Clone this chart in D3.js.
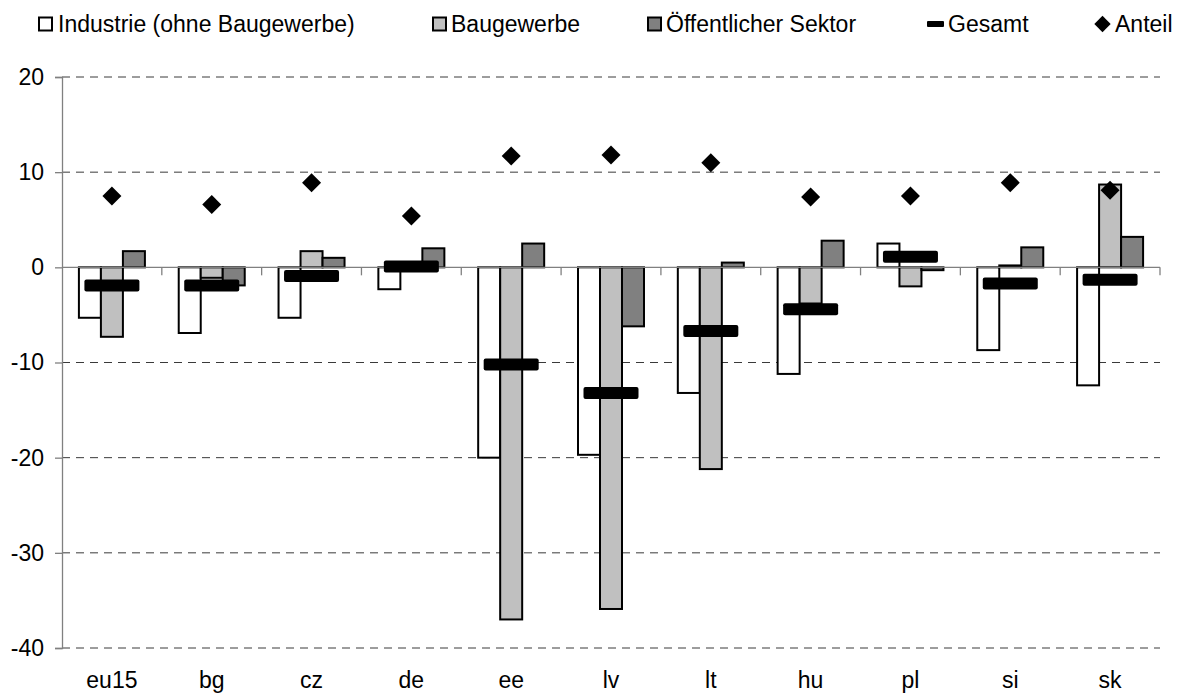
<!DOCTYPE html>
<html lang="de">
<head>
    <meta charset="UTF-8">
    <title>Beschäftigung nach Sektoren</title>
    <script src="https://d3js.org/d3.v7.min.js"></script>
    <style>
        body{
            margin: 0;
            background: #fff;
        }
        svg text{
            font-family: "Liberation Sans", Arial, sans-serif;
        }
    </style>
</head>
<body>
    <div id="chart"></div>

    <script>
        // values
        const categories = ["eu15", "bg", "cz", "de", "ee", "lv", "lt", "hu", "pl", "si", "sk"];
        const industrie = [-5.3, -6.9, -5.3, -2.3, -20.0, -19.7, -13.2, -11.2, 2.5, -8.7, -12.4];
        const baugewerbe = [-7.3, -1.1, 1.7, 0.3, -37.0, -35.9, -21.2, -3.8, -2.0, 0.2, 8.7];
        const oeffentlich = [1.7, -1.9, 1.0, 2.0, 2.5, -6.2, 0.5, 2.8, -0.3, 2.1, 3.2];
        const gesamt = [-1.9, -1.9, -0.9, 0.1, -10.2, -13.2, -6.7, -4.4, 1.1, -1.7, -1.3];
        const anteil = [7.5, 6.6, 8.9, 5.4, 11.7, 11.8, 11.0, 7.4, 7.5, 8.9, 8.1];
        const yTicks = [20, 10, 0, -10, -20, -30, -40];

        const seriesNames = ["Industrie (ohne Baugewerbe)", "Baugewerbe", "Öffentlicher Sektor", "Gesamt", "Anteil"];
        const barColors = ["#ffffff", "#c0c0c0", "#808080"];
        const barSeries = [industrie, baugewerbe, oeffentlich];

        const width = 1181;
        const height = 695;

        const svg = d3.select("#chart")
            .append("svg")
            .attr("width", width)
            .attr("height", height);

        const x = d3.scaleBand()
            .domain(categories)
            .range([62, 1160]);

        const y = d3.scaleLinear()
            .domain([-40, 20])
            .range([648, 77]);

        // dashed gridlines
        svg.selectAll(".grid")
            .data(yTicks.filter(d => d !== 0))
            .enter().append("line")
            .attr("class", "grid")
            .attr("x1", 62)
            .attr("x2", 1160)
            .attr("y1", d => y(d))
            .attr("y2", d => y(d))
            .attr("stroke", "#3a3a3a")
            .attr("stroke-width", 1)
            .attr("stroke-dasharray", "8,6");

        // y axis
        const yAxis = svg.append("g")
            .attr("transform", "translate(62,0)")
            .call(d3.axisLeft(y).tickValues(yTicks).tickSize(7).tickFormat(d3.format("d")));
        yAxis.select(".domain").attr("stroke", "#808080").attr("stroke-width", 1.3);
        yAxis.selectAll(".tick line").attr("stroke", "#808080").attr("stroke-width", 1.3);
        yAxis.selectAll(".tick text")
            .attr("x", -18)
            .style("font-size", "23px")
            .attr("fill", "#000")
            .text(d => d3.format("d")(d).replace("−", "-"));

        // category labels
        svg.selectAll(".cat")
            .data(categories)
            .enter().append("text")
            .attr("class", "cat")
            .attr("x", d => x(d) + x.bandwidth() / 2)
            .attr("y", 688)
            .attr("text-anchor", "middle")
            .style("font-size", "23px")
            .text(d => d);

        // bars
        const barW = 22;
        barSeries.forEach((values, s) => {
            svg.selectAll(".bar" + s)
                .data(values)
                .enter().append("rect")
                .attr("class", "bar" + s)
                .attr("x", (d, i) => x(categories[i]) + x.bandwidth() / 2 - 1.5 * barW + s * barW)
                .attr("y", d => y(Math.max(0, d)))
                .attr("width", barW)
                .attr("height", d => Math.abs(y(d) - y(0)))
                .attr("fill", barColors[s])
                .attr("stroke", "#000")
                .attr("stroke-width", 2);
        });

        // zero line with category ticks
        svg.append("line")
            .attr("x1", 62)
            .attr("x2", 1160)
            .attr("y1", y(0))
            .attr("y2", y(0))
            .attr("stroke", "#808080")
            .attr("stroke-width", 1.3);

        svg.selectAll(".xtick")
            .data(categories.slice(1).concat(["end"]))
            .enter().append("line")
            .attr("class", "xtick")
            .attr("x1", (d, i) => i < categories.length - 1 ? x(d) : x.range()[1])
            .attr("x2", (d, i) => i < categories.length - 1 ? x(d) : x.range()[1])
            .attr("y1", y(0))
            .attr("y2", y(0) + 8)
            .attr("stroke", "#808080")
            .attr("stroke-width", 1.3);

        // Gesamt markers
        svg.selectAll(".gesamt")
            .data(gesamt)
            .enter().append("rect")
            .attr("class", "gesamt")
            .attr("x", (d, i) => x(categories[i]) + x.bandwidth() / 2 - 27.5)
            .attr("y", d => y(d) - 6)
            .attr("width", 55)
            .attr("height", 12)
            .attr("rx", 2)
            .attr("fill", "#000");

        // Anteil diamonds
        svg.selectAll(".anteil")
            .data(anteil)
            .enter().append("path")
            .attr("class", "anteil")
            .attr("d", d3.symbol().type(d3.symbolDiamond2).size(230))
            .attr("transform", (d, i) => `translate(${x(categories[i]) + x.bandwidth() / 2},${y(d)})`)
            .attr("fill", "#000");

        // legend
        const legend = svg.append("g").attr("class", "legend");
        const legendX = [38, 432, 647, 927, 1093];
        const legendTextX = [58, 451, 666, 948, 1115];
        const ly = 24;

        seriesNames.forEach((name, i) => {
            if (i < 3) {
                legend.append("rect")
                    .attr("x", legendX[i] + 1)
                    .attr("y", ly - 6.5)
                    .attr("width", 13)
                    .attr("height", 13)
                    .attr("fill", barColors[i])
                    .attr("stroke", "#000")
                    .attr("stroke-width", 2);
            } else if (i === 3) {
                legend.append("rect")
                    .attr("x", legendX[i])
                    .attr("y", ly - 3)
                    .attr("width", 17)
                    .attr("height", 6)
                    .attr("rx", 1)
                    .attr("fill", "#000");
            } else {
                legend.append("path")
                    .attr("d", d3.symbol().type(d3.symbolDiamond2).size(170))
                    .attr("transform", `translate(${legendX[i] + 9.5},${ly})`)
                    .attr("fill", "#000");
            }
            legend.append("text")
                .attr("x", legendTextX[i])
                .attr("y", ly + 8)
                .style("font-size", "23px")
                .text(name);
        });
    </script>
</body>
</html>
